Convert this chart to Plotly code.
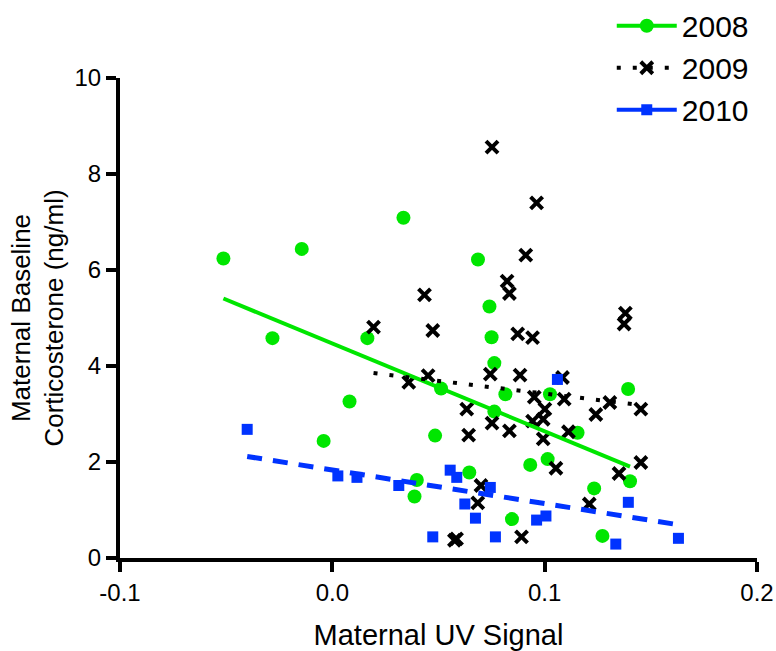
import plotly.graph_objects as go
import numpy as np

# ---- data ----
x_2008 = [-0.0513, -0.0282, -0.0144, -0.0041, 0.0081, 0.0165, 0.0335, 0.0387, 0.0398,
          0.0484, 0.0512, 0.0645, 0.0686, 0.0740, 0.0750, 0.0763, 0.0763, 0.0815,
          0.0846, 0.0932, 0.1014, 0.1025, 0.1155, 0.1233, 0.1272, 0.1393, 0.1402]
y_2008 = [6.24, 4.58, 6.44, 2.44, 3.26, 4.58, 7.09, 1.28, 1.625,
          2.55, 3.53, 1.78, 6.22, 5.24, 4.60, 4.06, 3.05, 3.41,
          0.81, 1.94, 2.06, 3.41, 2.61, 1.45, 0.46, 3.52, 1.60]

x_2009 = [0.0194, 0.0360, 0.0434, 0.0451, 0.0473, 0.0575, 0.0585, 0.0633, 0.0642,
          0.0685, 0.0700, 0.0744, 0.0752, 0.0752, 0.0823, 0.0834, 0.0834, 0.0873,
          0.0884, 0.0891, 0.0911, 0.0943, 0.0943, 0.0951, 0.0962, 0.0993, 0.0993,
          0.1001, 0.1053, 0.1084, 0.1092, 0.1112, 0.1210, 0.1241, 0.1307, 0.1350,
          0.1374, 0.1380, 0.1453, 0.1453]
y_2009 = [4.81, 3.66, 5.48, 3.80, 4.74, 0.37, 0.40, 3.10, 2.56,
          1.15, 1.51, 3.83, 8.56, 2.81, 5.77, 5.51, 2.65, 4.67,
          3.81, 0.44, 6.31, 4.59, 2.85, 3.35, 7.40, 2.89, 2.48,
          3.10, 1.87, 3.76, 3.31, 2.63, 1.125, 2.99, 3.24, 1.76,
          4.875, 5.10, 3.10, 1.99]

x_2010 = [-0.0401, 0.0026, 0.0116, 0.0313, 0.0473, 0.0555, 0.0586, 0.0624, 0.0674,
          0.0744, 0.0768, 0.0962, 0.1006, 0.1060, 0.1335, 0.1394, 0.1630]
y_2010 = [2.68, 1.71, 1.68, 1.51, 0.44, 1.83, 1.68, 1.125, 0.83,
          1.47, 0.44, 0.79, 0.875, 3.72, 0.29, 1.16, 0.41]

# regression lines (intercept, slope)
fit_2008 = (4.468, -18.28)
fit_2009 = (3.955, -5.30)
fit_2010 = (1.834, -7.00)

years = ["2008", "2009", "2010"]
x_ticks = [-0.1, 0.0, 0.1, 0.2]
x_tick_labels = ["-0.1", "0.0", "0.1", "0.2"]
y_ticks = [0, 2, 4, 6, 8, 10]

GREEN = "#00e600"
BLACK = "#000000"
BLUE = "#0033ff"
FONT = "Liberation Sans, Arial, sans-serif"

def fit_line(xs, fit):
    xx = np.array([min(xs), max(xs)])
    return xx, fit[0] + fit[1] * xx

fig = go.Figure()

X_MARK = dict(symbol="x-thin", size=12, color=BLACK, line=dict(width=4, color=BLACK))

# markers
fig.add_trace(go.Scatter(x=x_2008, y=y_2008, mode="markers", showlegend=False,
                         marker=dict(symbol="circle", size=14, color=GREEN)))
fig.add_trace(go.Scatter(x=x_2009, y=y_2009, mode="markers", showlegend=False,
                         marker=X_MARK))
fig.add_trace(go.Scatter(x=x_2010, y=y_2010, mode="markers", showlegend=False,
                         marker=dict(symbol="square", size=11, color=BLUE)))

# regression lines
lx, ly = fit_line(x_2008, fit_2008)
fig.add_trace(go.Scatter(x=lx, y=ly, mode="lines", showlegend=False,
                         line=dict(color=GREEN, width=4)))
lx, ly = fit_line(x_2009, fit_2009)
fig.add_trace(go.Scatter(x=lx, y=ly, mode="lines", showlegend=False,
                         line=dict(color=BLACK, width=4, dash="4px,12px")))
lx, ly = fit_line(x_2010, fit_2010)
fig.add_trace(go.Scatter(x=lx, y=ly, mode="lines", showlegend=False,
                         line=dict(color=BLUE, width=5, dash="15px,11px")))

# legend entries
fig.add_trace(go.Scatter(x=[None], y=[None], mode="lines+markers", name=years[0],
                         legendgroup="a",
                         line=dict(color=GREEN, width=4),
                         marker=dict(symbol="circle", size=14, color=GREEN)))
fig.add_trace(go.Scatter(x=[None], y=[None], mode="lines+markers", name=years[1],
                         legendgroup="b",
                         line=dict(color=BLACK, width=4, dash="4px,12px"),
                         marker=X_MARK))
fig.add_trace(go.Scatter(x=[None], y=[None], mode="lines+markers", name=years[2],
                         legendgroup="c",
                         line=dict(color=BLUE, width=4),
                         marker=dict(symbol="square", size=11, color=BLUE)))

fig.update_layout(
    width=776, height=651,
    margin=dict(l=120, r=19, t=78, b=93, autoexpand=False),
    paper_bgcolor="white", plot_bgcolor="white",
    font=dict(family=FONT, color="black"),
    showlegend=True,
    legend=dict(x=0.772, y=1.163, xanchor="left", yanchor="top",
                font=dict(size=30, family=FONT), traceorder="grouped",
                tracegroupgap=0, bgcolor="rgba(0,0,0,0)", itemwidth=60),
    xaxis=dict(range=[-0.1, 0.2], tickvals=x_ticks, ticktext=x_tick_labels,
               showline=True, linewidth=4, linecolor="black", mirror=False,
               ticks="outside", ticklen=10, tickwidth=4, tickcolor="black",
               showgrid=False, zeroline=False,
               tickfont=dict(size=24, family=FONT),
               title=dict(text="Maternal UV Signal", font=dict(size=29, family=FONT),
                          standoff=21)),
    yaxis=dict(range=[0, 10], tickvals=y_ticks,
               showline=True, linewidth=4, linecolor="black",
               ticks="outside", ticklen=10, tickwidth=4, tickcolor="black",
               showgrid=False, zeroline=False,
               tickfont=dict(size=24, family=FONT),
               title=dict(text="Maternal Baseline<br>Corticosterone (ng/ml)",
                          font=dict(size=26, family=FONT), standoff=4)),
)

fig.write_html("out.html")
